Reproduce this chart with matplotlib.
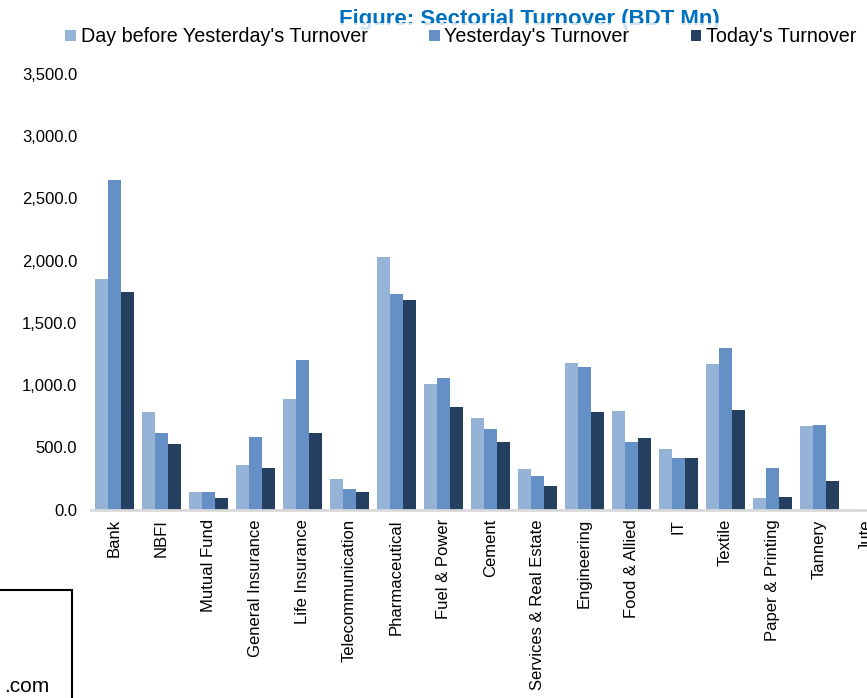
import numpy as np
import matplotlib
matplotlib.use("Agg")
import matplotlib.pyplot as plt
from matplotlib.patches import Patch, Rectangle

plt.rcParams['font.family'] = ['Liberation Sans', 'DejaVu Sans']

# Sectors and turnover values (BDT Mn)
sectors = ["Bank", "NBFI", "Mutual Fund", "General Insurance", "Life Insurance",
           "Telecommunication", "Pharmaceutical", "Fuel & Power", "Cement",
           "Services & Real Estate", "Engineering", "Food & Allied", "IT",
           "Textile", "Paper & Printing", "Tannery", "Jute"]
day_before = [1854, 785, 140, 355, 887, 242, 2029, 1011, 738, 324, 1180, 795, 490, 1172, 94, 674, 0]
yesterday = [2649, 612, 140, 582, 1200, 162, 1731, 1054, 648, 270, 1148, 543, 415, 1300, 335, 682, 0]
today = [1752, 526, 90, 333, 612, 138, 1683, 827, 546, 185, 784, 578, 415, 803, 104, 233, 0]
series_names = ["Day before Yesterday's Turnover", "Yesterday's Turnover", "Today's Turnover"]
colors = ["#95B3D7", "#6490C6", "#243F60"]

W, H = 867, 698
fig = plt.figure(figsize=(W / 100, H / 100), dpi=100)
# axes runs past the right edge, the original image is cropped there
ax = fig.add_axes([91 / W, 188.5 / H, 799 / W, 435.5 / H])

x = np.arange(len(sectors))
w = 0.279
for i, vals in enumerate([day_before, yesterday, today]):
    ax.bar(x + (i - 1) * w, vals, width=w, color=colors[i], edgecolor='none', zorder=2)

ax.set_xlim(-0.5, len(sectors) - 0.5)
ax.set_ylim(0, 3500)
ax.set_yticks(np.arange(0, 3501, 500))
ax.set_yticklabels([f"{v:,.1f}" for v in np.arange(0, 3501, 500)], fontsize=12)
ax.set_xticks(x)
ax.set_xticklabels(sectors, rotation=90, fontsize=12, va='top', ha='center')
ax.tick_params(axis='y', length=0, pad=10)
ax.tick_params(axis='x', length=0, pad=7)
for s in ['top', 'right', 'left']:
    ax.spines[s].set_visible(False)
ax.spines['bottom'].set_color('#D9D9D9')
ax.spines['bottom'].set_linewidth(2)

# title, bottom partly hidden by the legend
fig.text(529 / W, 1 - 25 / H, "Figure: Sectorial Turnover (BDT Mn)", ha='center', va='baseline',
         fontsize=16, fontweight='bold', color='#0070C0')

handles = [Patch(facecolor=c, edgecolor='none') for c in colors]
leg = fig.legend(handles, series_names, loc='center left', bbox_to_anchor=(60 / W, 1 - 37 / H),
                 ncol=3, fontsize=14.2, frameon=True, fancybox=False, borderpad=0.25, borderaxespad=0,
                 handlelength=0.55, handleheight=0.55, handletextpad=0.25, columnspacing=3.1)
leg.get_frame().set_facecolor('white')
leg.get_frame().set_edgecolor('none')
leg.set_zorder(10)

# cropped source box in the corner
fig.add_artist(Rectangle((-5 / W, -5 / H), 77 / W, 113 / H, transform=fig.transFigure,
                         facecolor='white', edgecolor='black', linewidth=1.5))
fig.text(49 / W, 1 - 692 / H, ".com", ha='right', va='baseline', fontsize=15)

fig.savefig("out.png", dpi=100)
